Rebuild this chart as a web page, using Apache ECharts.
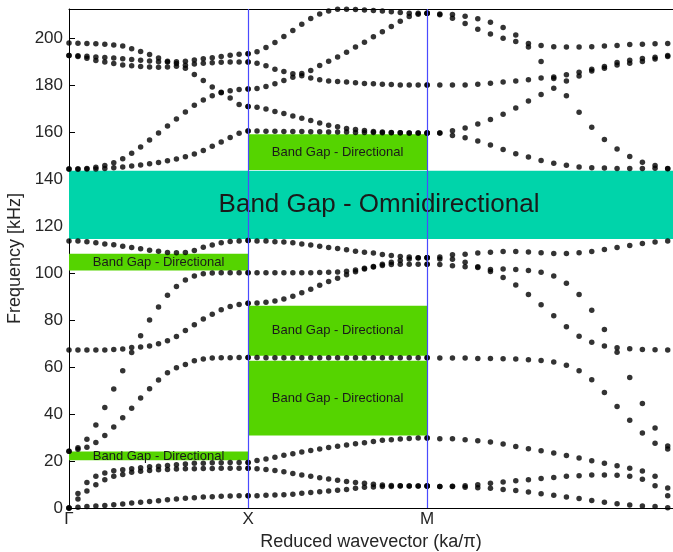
<!DOCTYPE html>
<html>
<head>
<meta charset="utf-8">
<script src="https://cdn.jsdelivr.net/npm/echarts@6/dist/echarts.min.js"></script>
<style>
html, body { margin: 0; padding: 0; background: #fff; }
#main { width: 673px; height: 552px; }
</style>
</head>
<body>
<div id="main"></div>
<script>
// k-path points
var kLabels = ['Γ', 'X', 'M'];

// Γ -> X, 21 samples per band (kHz)
var gxBands = [
	[0, 0.3, 0.6, 0.9, 1.1, 1.4, 1.7, 2.1, 2.4, 2.8, 3.1, 3.5, 3.8, 4.1, 4.4, 4.7, 4.8, 5.0, 5.1, 5.2, 5.2],
	[0, 3.8, 7.2, 9.9, 12.0, 13.5, 14.3, 15.2, 15.6, 16.0, 16.3, 16.4, 16.6, 16.7, 16.7, 16.8, 16.8, 16.9, 16.9, 16.9, 16.9],
	[0, 6.2, 10.9, 13.5, 14.9, 15.9, 16.3, 16.7, 17.1, 17.6, 17.8, 18.1, 18.4, 18.7, 19.0, 19.1, 19.3, 19.3, 19.4, 19.4, 19.4],
	[24.2, 25.0, 25.9, 27.9, 30.9, 34.5, 38.4, 42.5, 46.8, 50.8, 54.5, 57.6, 59.7, 61.1, 62.7, 63.4, 63.8, 64.0, 64.0, 64.1, 64.1],
	[24.2, 25.6, 29.3, 35.3, 42.8, 50.6, 58.4, 66.2, 73.3, 80.0, 85.6, 90.6, 94.3, 97.1, 98.8, 99.7, 100.0, 100.1, 100.1, 100.1, 100.1],
	[67.2, 67.2, 67.2, 67.2, 67.3, 67.5, 67.7, 68.3, 68.5, 69.0, 69.9, 71.2, 73.0, 75.6, 78.0, 80.4, 82.5, 84.4, 85.8, 86.6, 87.1],
	[113.7, 113.6, 113.3, 112.9, 112.4, 112.0, 111.4, 110.9, 110.3, 109.7, 109.3, 108.8, 108.6, 108.8, 109.6, 111.0, 111.9, 112.9, 113.4, 113.7, 113.9],
	[144.3, 144.3, 144.3, 144.3, 144.5, 144.8, 145.2, 145.6, 146.0, 146.5, 147.1, 147.8, 148.6, 149.5, 150.7, 152.2, 154.0, 155.8, 157.7, 159.5, 160.5],
	[144.3, 144.3, 144.5, 145.0, 145.8, 147.0, 148.7, 151.0, 153.7, 156.6, 159.6, 162.6, 165.6, 168.6, 171.4, 173.7, 175.5, 176.8, 177.6, 178.1, 178.3],
	[197.9, 197.8, 197.7, 197.6, 197.4, 197.1, 196.6, 195.5, 194.3, 193.0, 191.5, 190.2, 189.2, 187.2, 184.5, 182.0, 179.2, 177.0, 174.5, 171.8, 170.9],
	[192.6, 192.5, 192.3, 192.0, 191.8, 191.5, 191.2, 190.9, 190.6, 190.3, 190.0, 189.8, 189.9, 190.2, 190.7, 191.2, 191.7, 192.2, 192.7, 193.1, 193.3],
	[192.6, 192.2, 191.4, 190.5, 189.8, 189.2, 188.6, 188.2, 187.9, 187.7, 187.6, 187.7, 188.0, 188.5, 189.0, 189.3, 189.5, 189.7, 189.8, 189.8, 189.8]
];

// X -> M, 21 samples per band
var xmBands = [
	[5.2, 5.2, 5.4, 5.5, 5.6, 5.9, 6.3, 6.6, 6.9, 7.2, 7.6, 7.9, 8.4, 8.8, 8.9, 9.2, 9.2, 9.4, 9.4, 9.4, 9.4],
	[16.9, 16.7, 16.4, 16.0, 15.4, 14.7, 14.0, 13.5, 12.9, 12.3, 11.8, 11.3, 10.9, 10.5, 10.1, 9.8, 9.6, 9.5, 9.4, 9.4, 9.4],
	[19.4, 20.2, 20.9, 21.6, 22.4, 23.1, 23.8, 24.5, 25.1, 25.7, 26.3, 26.8, 27.4, 27.8, 28.3, 28.8, 29.1, 29.4, 29.6, 29.8, 29.8],
	[64.1, 64.1, 64.0, 64.0, 64.0, 64.0, 64.0, 64.0, 64.0, 64.0, 64.0, 64.0, 64.0, 64.0, 64.0, 64.0, 64.0, 64.0, 64.0, 64.0, 64.0],
	[87.1, 87.3, 87.6, 88.1, 89.0, 90.1, 91.6, 93.1, 94.8, 96.4, 97.8, 99.3, 100.6, 101.7, 102.6, 103.2, 103.6, 103.8, 103.8, 103.8, 103.8],
	[100.1, 100.1, 100.1, 100.1, 100.1, 100.1, 100.1, 100.1, 100.2, 100.3, 100.5, 100.8, 101.3, 102.0, 102.8, 103.7, 104.6, 105.4, 106.0, 106.4, 106.5],
	[113.9, 113.7, 113.6, 113.3, 113.2, 112.9, 112.4, 111.9, 111.4, 110.9, 110.5, 109.9, 109.3, 108.9, 108.5, 107.9, 107.5, 107.1, 106.8, 106.5, 106.5],
	[160.5, 160.5, 160.4, 160.4, 160.3, 160.3, 160.3, 160.1, 160.1, 160.0, 160.0, 160.0, 159.8, 159.8, 159.8, 159.7, 159.7, 159.7, 159.6, 159.6, 159.6],
	[170.9, 170.6, 169.8, 168.8, 167.9, 166.9, 165.9, 164.9, 163.9, 162.9, 162.3, 161.5, 161.1, 160.7, 160.3, 160.0, 159.8, 159.7, 159.6, 159.6, 159.6],
	[178.3, 178.6, 179.4, 180.6, 182.0, 183.4, 184.0, 183.0, 182.3, 181.8, 181.5, 181.3, 181.0, 180.7, 180.6, 180.4, 180.3, 180.1, 180.0, 180.0, 180.0],
	[189.8, 189.3, 188.2, 186.8, 185.8, 184.8, 184.9, 186.2, 188.4, 190.2, 192.0, 194.0, 196.2, 198.3, 200.6, 202.7, 205.0, 207.2, 209.2, 210.2, 210.6],
	[193.3, 194.2, 196.0, 198.1, 200.7, 203.3, 205.9, 208.4, 210.3, 211.6, 212.3, 212.3, 212.2, 212.0, 211.8, 211.5, 211.2, 210.9, 210.6, 210.6, 210.6]
];

// M -> Γ, 20 samples visible per band
var mgBands = [
	[9.4, 9.2, 9.2, 8.8, 8.6, 8.4, 7.9, 7.4, 6.8, 6.1, 5.4, 4.7, 4.0, 3.2, 2.5, 1.8, 1.3, 0.9, 0.6, 0.1],
	[9.4, 9.2, 9.3, 9.5, 9.9, 10.5, 11.1, 11.6, 12.0, 12.6, 13.0, 13.5, 13.7, 14.0, 14.0, 13.9, 13.5, 12.2, 9.5, 5.2],
	[29.8, 29.5, 29.5, 29.1, 28.6, 28.1, 27.2, 26.2, 25.2, 24.4, 23.4, 22.3, 21.3, 20.1, 19.0, 18.0, 16.9, 15.7, 13.5, 8.5],
	[64.0, 63.8, 63.8, 63.8, 63.6, 63.6, 63.5, 63.4, 63.1, 62.8, 62.1, 60.8, 58.4, 54.6, 49.2, 43.2, 37.3, 31.9, 27.6, 25.1],
	[103.8, 103.6, 103.1, 102.7, 102.4, 100.7, 98.1, 94.9, 90.9, 86.5, 81.8, 77.1, 73.1, 70.5, 69.0, 68.2, 67.8, 67.5, 67.4, 67.2],
	[106.5, 106.0, 105.9, 104.6, 102.7, 101.5, 101.7, 101.5, 101.1, 100.4, 98.8, 95.7, 90.9, 84.2, 76.0, 66.3, 55.6, 44.5, 34.0, 26.4],
	[106.5, 106.8, 107.8, 108.0, 108.5, 108.9, 109.2, 109.2, 109.0, 108.6, 108.3, 108.3, 108.6, 109.2, 110.0, 110.9, 111.7, 112.6, 113.2, 113.6],
	[159.6, 159.6, 158.6, 157.6, 156.2, 154.5, 152.6, 150.8, 149.4, 147.9, 146.7, 145.9, 145.2, 144.8, 144.7, 144.5, 144.5, 144.5, 144.6, 144.5],
	[159.6, 159.6, 160.6, 161.7, 163.4, 165.4, 167.6, 170.3, 173.2, 176.0, 178.7, 181.7, 183.9, 186.0, 187.2, 188.6, 189.3, 190.1, 191.1, 192.2],
	[180.0, 180.1, 180.0, 180.1, 180.4, 180.8, 181.3, 181.8, 182.3, 183.0, 183.5, 184.4, 185.5, 186.8, 187.9, 189.6, 190.6, 191.3, 191.9, 192.6],
	[210.6, 210.0, 208.5, 206.2, 203.8, 201.8, 200.0, 198.6, 196.2, 190.1, 182.8, 175.5, 168.4, 162.1, 156.9, 152.8, 149.6, 147.2, 145.8, 144.4],
	[210.6, 210.3, 210.1, 209.3, 208.2, 206.8, 204.5, 201.3, 197.7, 196.9, 196.3, 196.2, 196.2, 196.3, 196.6, 196.9, 197.3, 197.4, 197.6, 197.7]
];

// band gaps (kHz)
var omniGap = [114.5, 143.5];
var dirGapsGX = [[101.1, 108.2], [20.3, 24.0]];
var dirGapsXM = [[143.9, 159.1], [64.8, 86.1], [30.9, 62.7]];

var segLen = [1, 1, Math.SQRT2]; // Γ-X, X-M, M-Γ path lengths
var xMax = 3.373;

function segPoints(bands, x0, len) {
	var pts = [];
	bands.forEach(function(b) {
		b.forEach(function(f, k) {
			pts.push([x0 + k * len / 20, f]);
		});
	});
	return pts;
}
var dots = segPoints(gxBands, 0, segLen[0])
	.concat(segPoints(xmBands, 1, segLen[1]))
	.concat(segPoints(mgBands, 2, segLen[2]));

var green = '#55d400';
var areas = [
	[{ name: 'Band Gap - Omnidirectional', xAxis: 0, yAxis: omniGap[0],
		itemStyle: { color: '#00d4aa' }, label: { fontSize: 26, offset: [8, 0] } },
	 { xAxis: xMax, yAxis: omniGap[1] }]
];
dirGapsGX.forEach(function(g) {
	areas.push([{ name: 'Band Gap - Directional', xAxis: 0, yAxis: g[0], itemStyle: { color: green } },
		{ xAxis: 1, yAxis: g[1] }]);
});
dirGapsXM.forEach(function(g) {
	areas.push([{ name: 'Band Gap - Directional', xAxis: 1, yAxis: g[0], itemStyle: { color: green } },
		{ xAxis: 2, yAxis: g[1] }]);
});

var font = 'Liberation Sans, Arial, sans-serif';
var myChart = echarts.init(document.getElementById('main'));
var option = {
	animation: false,
	backgroundColor: '#fff',
	grid: { left: 69, right: 0, top: 9, bottom: 44, outerBoundsMode: 'none', containLabel: false },
	xAxis: [
		{
			type: 'value', min: 0, max: xMax, interval: 1,
			name: 'Reduced wavevector (ka/π)', nameLocation: 'middle', nameGap: 22,
			nameTextStyle: { fontSize: 18, color: '#262626', fontFamily: font },
			axisLine: { lineStyle: { color: '#000', width: 1 } },
			axisTick: { show: false },
			splitLine: { show: false },
			axisLabel: {
				fontSize: 17, color: '#262626', fontFamily: font, margin: 3,
				showMaxLabel: false,
				formatter: function(v) { return kLabels[v] || ''; }
			}
		},
		{
			type: 'value', min: 0, max: xMax, position: 'top',
			axisLine: { show: true, lineStyle: { color: '#000', width: 1 } },
			axisTick: { show: false }, axisLabel: { show: false }, splitLine: { show: false }
		}
	],
	yAxis: {
		type: 'value', min: 0, max: 212.4, interval: 20,
		name: 'Frequency [kHz]', nameLocation: 'middle', nameGap: 38,
		nameTextStyle: { fontSize: 18, color: '#262626', fontFamily: font },
		axisLine: { show: true, lineStyle: { color: '#000', width: 1 } },
		axisTick: { show: true, inside: true, length: 6, lineStyle: { color: '#000' } },
		splitLine: { show: false },
		axisLabel: {
			fontSize: 17, color: '#262626', fontFamily: font, margin: 6,
			showMaxLabel: false,
			formatter: function(v) { return v % 20 === 0 ? v : ''; }
		}
	},
	series: [
		{
			type: 'scatter', data: [], silent: true, z: 1,
			markArea: {
				silent: true,
				label: { show: true, position: 'inside', color: '#1a1a1a', fontSize: 13, fontFamily: font },
				data: areas
			}
		},
		{
			type: 'scatter', data: [], silent: true, z: 2,
			markLine: {
				silent: true, symbol: ['none', 'none'],
				label: { show: false },
				lineStyle: { color: '#4a4aff', type: 'solid', width: 1.2 },
				data: [{ xAxis: 1 }, { xAxis: 2 }]
			}
		},
		{
			type: 'scatter', z: 3, clip: false,
			symbol: 'circle', symbolSize: 5.5,
			itemStyle: { color: '#000' },
			data: dots
		}
	]
};
myChart.setOption(option, true);
</script>
</body>
</html>
